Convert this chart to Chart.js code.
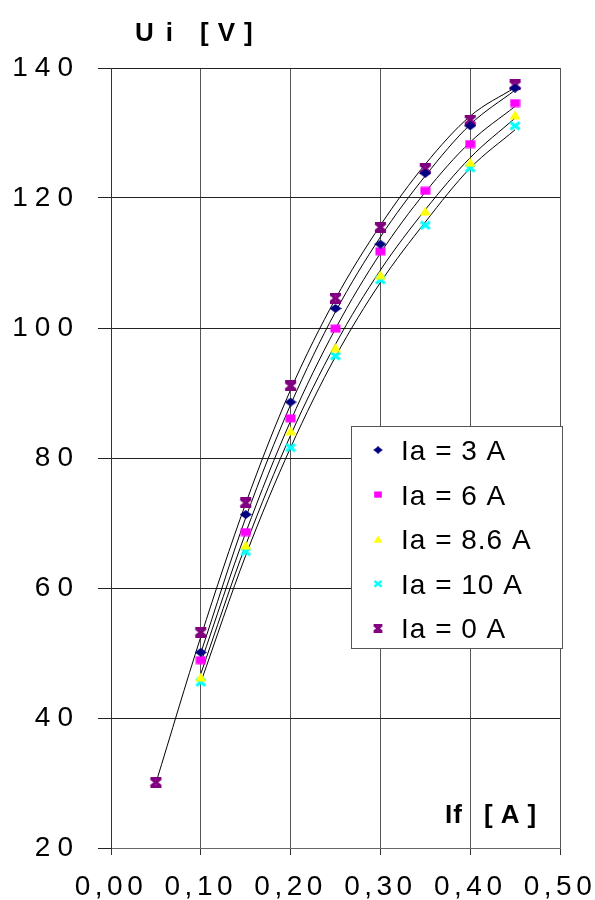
<!DOCTYPE html>
<html><head><meta charset="utf-8">
<script src="https://cdn.jsdelivr.net/npm/chart.js@4/dist/chart.umd.min.js"></script>
<style>html,body{margin:0;padding:0;background:#fff}#wrap{position:relative;width:595px;height:900px}</style>
</head><body><div id="wrap"><canvas id="c" width="595" height="900"></canvas></div>
<script>
// Field current If [A]
const ifValues = [0.05, 0.10, 0.15, 0.20, 0.25, 0.30, 0.35, 0.40, 0.45];
// Measured induced voltage Ui [V] per armature current
const ia3  = [null, 50.1, 71.3, 88.6, 103.0, 112.9, 123.8, 131.1, 136.9];
const ia6  = [null, 48.9, 68.6, 86.1,  99.9, 111.8, 121.1, 128.3, 134.6];
const ia86 = [null, 46.3, 66.6, 84.2,  97.0, 108.2, 118.0, 125.5, 132.8];
const ia10 = [null, 45.5, 65.6, 81.6,  95.7, 107.4, 115.8, 124.6, 131.1];
const ia0  = [30.1, 53.2, 73.1, 91.1, 104.6, 115.5, 124.5, 132.0, 137.4];
// Trend curves (black thin lines)
const trend3  = [null, 50.0, 70.8, 88.2, 102.5, 114.0, 123.4, 131.3, 136.6];
const trend6  = [null, 48.5, 68.5, 85.7,  99.9, 111.5, 120.9, 128.6, 134.1];
const trend86 = [null, 46.8, 66.6, 83.5,  97.5, 108.9, 118.2, 126.2, 132.3];
const trend10 = [null, 45.5, 65.0, 81.6,  95.6, 107.0, 116.3, 124.6, 130.5];
const trend0  = [30.0, 52.5, 73.0, 90.5, 104.5, 115.8, 125.2, 132.6, 137.0];
const seriesLabels = ['Ia = 3 A', 'Ia = 6 A', 'Ia = 8.6 A', 'Ia = 10 A', 'Ia = 0 A'];
const xTicks = [0, 0.1, 0.2, 0.3, 0.4, 0.5];
const yTicks = [20, 40, 60, 80, 100, 120, 140];

function mk(w, h, draw) { const c = document.createElement('canvas'); c.width = w; c.height = h; draw(c.getContext('2d'), w, h); return c; }
const mDiamond = mk(12, 9, (g) => { g.fillStyle = '#000080'; g.beginPath(); g.moveTo(0,4.5); g.lineTo(6,0); g.lineTo(12,4.5); g.lineTo(6,9); g.closePath(); g.fill(); });
const mSquare = mk(11, 9, (g) => { g.fillStyle = '#FF00FF'; g.fillRect(0.5,0.5,10,8); });
const mTri = mk(12, 10, (g) => { g.fillStyle = '#FFFF00'; g.beginPath(); g.moveTo(0.5,9.5); g.lineTo(6,0.5); g.lineTo(11.5,9.5); g.closePath(); g.fill(); });
const mX = mk(12, 10, (g) => { g.strokeStyle = '#00FFFF'; g.lineWidth = 3; g.beginPath(); g.moveTo(1.5,1.5); g.lineTo(10.5,8.5); g.moveTo(10.5,1.5); g.lineTo(1.5,8.5); g.stroke(); });
const mStar = mk(13, 11, (g) => { g.strokeStyle = '#800080'; g.lineWidth = 3; g.beginPath(); g.moveTo(1.5,1.5); g.lineTo(11.5,9.5); g.moveTo(11.5,1.5); g.lineTo(1.5,9.5); g.moveTo(1,1.5); g.lineTo(12,1.5); g.moveTo(1,9.5); g.lineTo(12,9.5); g.stroke(); });
const markers = [mDiamond, mSquare, mTri, mX, mStar];

function pts(arr) { const o = []; arr.forEach((v, i) => { if (v !== null) o.push({ x: ifValues[i], y: v }); }); return o; }
const measured = [ia3, ia6, ia86, ia10, ia0];
const trends = [trend3, trend6, trend86, trend10, trend0];
const markerSets = measured.map((s, i) => ({
  label: seriesLabels[i], data: pts(s), showLine: false,
  pointStyle: markers[i], pointRadius: 6, pointHoverRadius: 6, order: 1
}));
const trendSets = trends.map((s, i) => ({
  label: seriesLabels[i] + ' trend', data: pts(s), showLine: true, pointRadius: 0,
  borderColor: '#000', borderWidth: 1, cubicInterpolationMode: 'monotone', order: 2
}));

const FONT = 'Liberation Sans, Arial, sans-serif';
const decor = {
  id: 'decor',
  afterLayout(chart) {
    const xs = chart.scales.x;
    if (!xs._patched) {
      const orig = xs.drawLabels;
      xs.drawLabels = function (area) {
        const c = this.ctx; const prev = c.letterSpacing;
        c.letterSpacing = '4.5px'; orig.call(this, area); c.letterSpacing = prev;
      };
      xs._patched = true;
    }
  },
  beforeDraw(chart) { chart.ctx.letterSpacing = '7px'; },
  afterDraw(chart) {
    const ctx = chart.ctx;
    ctx.save();
    ctx.fillStyle = '#fff'; ctx.strokeStyle = '#555'; ctx.lineWidth = 1;
    ctx.fillRect(351.5, 426.5, 211, 222); ctx.strokeRect(351.5, 426.5, 211, 222);
    ctx.font = '28px ' + FONT; ctx.fillStyle = '#000'; ctx.textBaseline = 'alphabetic'; ctx.textAlign = 'left';
    ctx.letterSpacing = '1px';
    markerSets.forEach((d, i) => {
      const cy = 450 + i * 44.6;
      const m = markers[i];
      ctx.drawImage(m, 378 - m.width * 0.4, cy - m.height * 0.4, m.width * 0.8, m.height * 0.8);
      ctx.fillText(d.label, 401, cy + 10);
    });
    ctx.font = 'bold 26px ' + FONT;
    ctx.letterSpacing = '12px'; ctx.fillText('Ui', 135, 41);
    ctx.letterSpacing = '9px'; ctx.fillText('[V]', 200, 41);
    ctx.letterSpacing = '1px'; ctx.fillText('If', 445, 823);
    ctx.letterSpacing = '8px'; ctx.fillText('[A]', 484, 823);
    ctx.restore();
  }
};

new Chart(document.getElementById('c'), {
  type: 'scatter',
  data: { datasets: [...markerSets, ...trendSets] },
  options: {
    responsive: false, animation: false, devicePixelRatio: 1, events: [],
    layout: { autoPadding: false, padding: { top: 68, right: 35, left: 0, bottom: 0 } },
    plugins: { legend: { display: false }, tooltip: { enabled: false } },
    scales: {
      x: {
        type: 'linear', min: xTicks[0], max: xTicks[xTicks.length - 1],
        afterBuildTicks: (s) => { s.ticks = xTicks.map(v => ({ value: v })); },
        afterFit: (s) => { s.height = 52; s.paddingLeft = 0; s.paddingRight = 0; },
        ticks: { callback: (v) => Number(v).toFixed(2).replace('.', ','), font: { family: FONT, size: 28 }, color: '#000', padding: 15, maxRotation: 0, autoSkip: false },
        grid: { color: '#555', lineWidth: 1, tickLength: 7, tickColor: '#333' },
        border: { color: '#666' }
      },
      y: {
        type: 'linear', min: yTicks[0], max: yTicks[yTicks.length - 1],
        afterBuildTicks: (s) => { s.ticks = yTicks.map(v => ({ value: v })); },
        afterFit: (s) => { s.width = 111; s.paddingTop = 0; s.paddingBottom = 0; },
        ticks: { font: { family: FONT, size: 28 }, color: '#000', padding: 18 },
        grid: { color: '#222', lineWidth: 1, tickLength: 13, tickColor: '#222' },
        border: { color: '#333' }
      }
    }
  },
  plugins: [decor]
});
</script>
</body></html>
